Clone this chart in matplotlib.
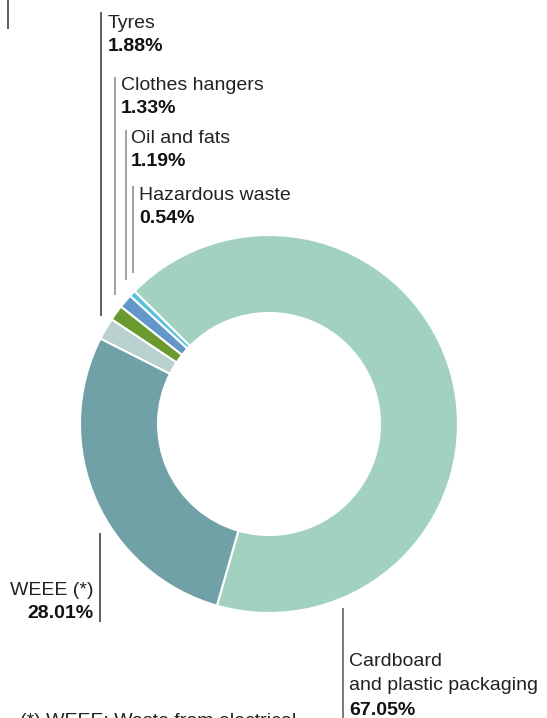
import matplotlib.pyplot as plt

# waste categories, counterclockwise from the bottom
labels = ['Cardboard\nand plastic packaging', 'Hazardous waste', 'Oil and fats',
          'Clothes hangers', 'Tyres', 'WEEE (*)']
shares = [67.05, 0.54, 1.19, 1.33, 1.88, 28.01]
colors = ['#a2d2bf', '#5bc0de', '#6497c9', '#6a9a2e', '#b9d2d0', '#6fa1a6']

W, H = 547, 718
plt.rcParams['font.family'] = ['Liberation Sans', 'DejaVu Sans']

fig = plt.figure(figsize=(W / 100, H / 100), dpi=100)
ax = fig.add_axes([0, 0, 1, 1])

cx, cy, R = 269, H - 424, 189
ax.pie(shares, colors=colors, startangle=254, counterclock=True,
       center=(cx, cy), radius=R, frame=True,
       wedgeprops=dict(width=78, edgecolor='white', linewidth=1.5))
ax.set_xlim(0, W)
ax.set_ylim(0, H)
ax.set_aspect('equal')
ax.axis('off')

FS = 14


def y(p):
    return H - p


def label(x, base, name, value, ha='left'):
    ax.text(x, y(base), name, ha=ha, va='baseline', fontsize=FS, color='#222222')
    ax.text(x, y(base + 23), value, ha=ha, va='baseline', fontsize=FS,
            fontweight='bold', color='#111111')


def vline(x, y0, y1, color):
    ax.plot([x, x], [y(y0), y(y1)], color=color, lw=1.1, solid_capstyle='butt')


fmt = lambda v: f'{v:.2f}%'

vline(8, 0, 29, '#333333')

vline(101, 12, 316, '#333333')
label(108, 28, labels[4], fmt(shares[4]))
vline(115, 77, 295, '#888888')
label(121, 90, labels[3], fmt(shares[3]))
vline(126, 130, 280, '#888888')
label(131, 143, labels[2], fmt(shares[2]))
vline(133, 186, 273, '#888888')
label(139, 200, labels[1], fmt(shares[1]))

vline(100, 533, 622, '#333333')
label(93, 595, labels[5], fmt(shares[5]), ha='right')

vline(343, 608, 718, '#555555')
ax.text(349, y(666), 'Cardboard', ha='left', va='baseline', fontsize=FS, color='#222222')
ax.text(349, y(690), 'and plastic packaging', ha='left', va='baseline', fontsize=FS, color='#222222')
ax.text(349, y(715), fmt(shares[0]), ha='left', va='baseline', fontsize=FS,
        fontweight='bold', color='#111111')

ax.text(20, y(726), '(*) WEEE: Waste from electrical', ha='left', va='baseline',
        fontsize=FS, color='#222222')

fig.savefig('out.png', dpi=100)
